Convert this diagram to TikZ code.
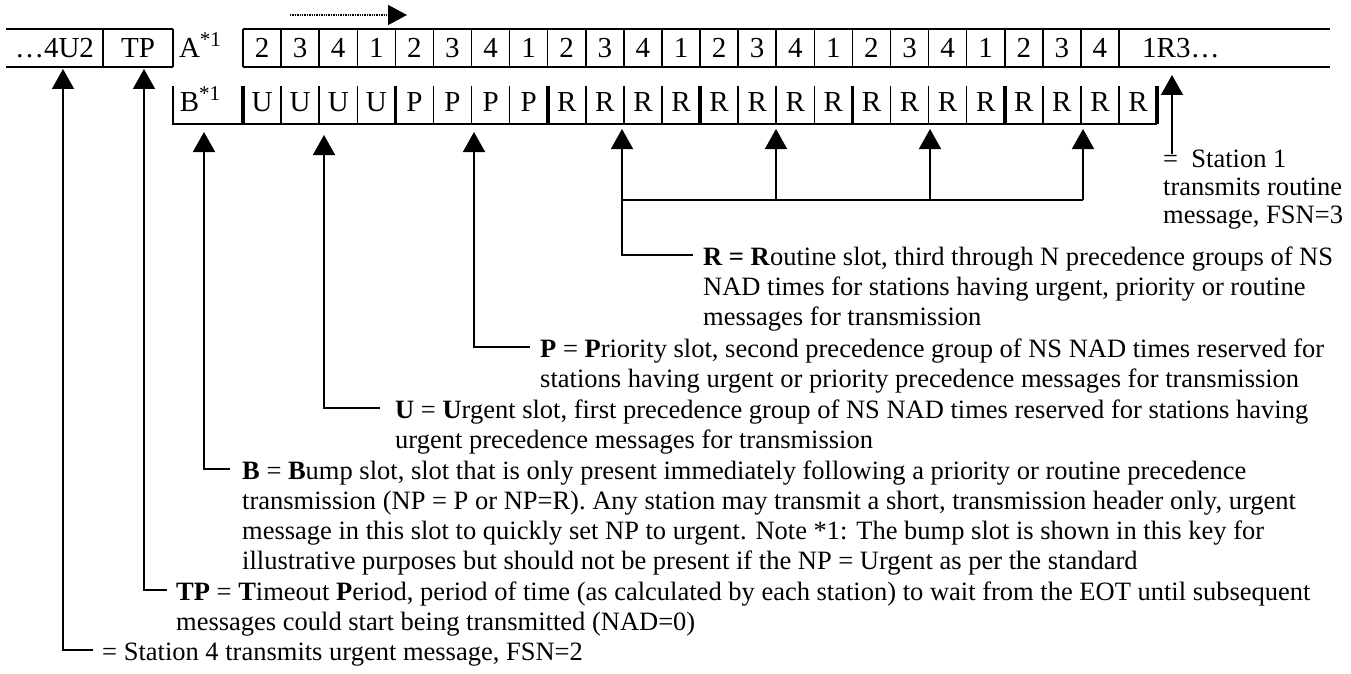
\documentclass[tikz,border=0pt]{standalone}
\usepackage{fontspec}
\setmainfont{Liberation Serif}
\usetikzlibrary{arrows.meta}
\begin{document}
\begin{tikzpicture}[x=1pt,y=-1pt,
  gridline/.style={line width=1.5pt},
  thickdiv/.style={line width=3.6pt},
  cell/.style={font=\fontsize{29}{30}\selectfont, inner sep=0pt, anchor=base},
  body/.style={font=\fontsize{26.5}{30}\selectfont, inner sep=0pt, anchor=base west},
  leader/.style={line width=1.6pt, -{Triangle[length=20pt,width=22pt]}},
  plainline/.style={line width=1.6pt}
]
\useasboundingbox (0,0) rectangle (1351,674);

% ---------- upper row ----------
\draw[gridline] (6,29) -- (173,29) (6,67) -- (173,67) (103,29) -- (103,67) (173,29) -- (173,67);
\draw[gridline] (243,29) -- (1330,29) (243,67) -- (1330,67);
\foreach \k in {0,...,23} \draw[gridline] ({243+38.087*\k},29) -- ({243+38.087*\k},67);

\node[cell] (c4u2) at (54.5,58) {…4U2};
\node[cell] (ctp) at (138,58) {TP};
\node[cell] (ca) at (200,58) {A\raisebox{11pt}{\fontsize{21}{21}\selectfont *1}};
\foreach \k in {0,...,22}{
  \pgfmathtruncatemacro\v{mod(\k,4)==3 ? 1 : mod(\k,4)+2}
  \node[cell] (u\k) at ({243+38.087*(\k+0.5)},58) {\v};
}
\node[cell, anchor=base west] (c1r3) at (1142,58) {1R3…};

% dotted direction arrow
\coordinate (dotS) at (290,15);
\coordinate (dotE) at (407,15);
\draw[line width=1.3pt, dash pattern=on 1.3pt off 1.1pt, -{Triangle[length=19pt,width=20pt]}] (dotS) -- (dotE);

% ---------- lower row ----------
\draw[gridline] (173,86) -- (173,124) -- (1157,124);
\foreach \k in {1,2,3,5,6,7,9,10,11,13,14,15,17,18,19,21,22,23}
  \draw[gridline] ({243+38.087*\k},86) -- ({243+38.087*\k},124);
\foreach \k in {0,4,...,24}
  \draw[thickdiv] ({243+38.087*\k},86) -- ({243+38.087*\k},124);

\node[cell] (cb) at (200,112) {B\raisebox{11pt}{\fontsize{21}{21}\selectfont *1}};
\foreach \k in {0,...,23}{
  \node[cell] (l\k) at ({243+38.087*(\k+0.5)},112) {\ifnum\k<4 U\else\ifnum\k<8 P\else R\fi\fi};
}

% ---------- key texts ----------
\node[body] (rt0) at (703,265) {\textbf{R = R}outine slot, third through N precedence groups of NS};
\node[body] (rt1) at (703,295) {NAD times for stations having urgent, priority or routine};
\node[body] (rt2) at (703,325) {messages for transmission};

\node[body] (pt0) at (540,357) {\textbf{P} = \textbf{P}riority slot, second precedence group of NS NAD times reserved for};
\node[body] (pt1) at (540,387) {stations having urgent or priority precedence messages for transmission};

\node[body] (ut0) at (395,418) {\textbf{U} = \textbf{U}rgent slot, first precedence group of NS NAD times reserved for stations having};
\node[body] (ut1) at (395,448) {urgent precedence messages for transmission};

\node[body] (bt0) at (242,479) {\textbf{B} = \textbf{B}ump slot, slot that is only present immediately following a priority or routine precedence};
\node[body] (bt1) at (242,509) {transmission (NP = P or NP=R). Any station may transmit a short, transmission header only, urgent};
\node[body] (bt2) at (242,539) {message in this slot to quickly set NP to urgent. Note *1: The bump slot is shown in this key for};
\node[body] (bt3) at (242,569) {illustrative purposes but should not be present if the NP = Urgent as per the standard};

\node[body] (tt0) at (176,600) {\textbf{TP} = \textbf{T}imeout \textbf{P}eriod, period of time (as calculated by each station) to wait from the EOT until subsequent};
\node[body] (tt1) at (176,630) {messages could start being transmitted (NAD=0)};

\node[body] (s4t) at (102,660) {= Station 4 transmits urgent message, FSN=2};

\node[body] (s1t0) at (1163,167) {=~~Station 1};
\node[body] (s1t1) at (1163,195) {transmits routine};
\node[body] (s1t2) at (1163,223) {message, FSN=3};

% ---------- connectors ----------
\coordinate (tip4u2) at (63,69);   \coordinate (end4u2) at (93,650);
\coordinate (tiptp) at (144,69);   \coordinate (endtp) at (167,590);
\coordinate (tipb) at (204,132);   \coordinate (endb) at (230,469);
\coordinate (tipu) at (324,135);   \coordinate (endu) at (380,408);
\coordinate (tipp) at (474,132);   \coordinate (endp) at (530,347);
\coordinate (tipr1) at (622,129);  \coordinate (endr) at (693,255);
\coordinate (tipr2) at (776,129);
\coordinate (tipr3) at (930,129);
\coordinate (tipr4) at (1083,129);
\coordinate (jr1) at (622,200);
\coordinate (jr2) at (776,200);
\coordinate (jr3) at (930,200);
\coordinate (jr4) at (1083,200);
\coordinate (tips1) at (1172,75);  \coordinate (ends1) at (1172,154);

\draw[leader] (end4u2) -| (tip4u2);
\draw[leader] (endtp) -| (tiptp);
\draw[leader] (endb) -| (tipb);
\draw[leader] (endu) -| (tipu);
\draw[leader] (endp) -| (tipp);
\draw[leader] (endr) -| (tipr1);
\draw[plainline] (jr1) -- (jr4);
\draw[leader] (jr2) -- (tipr2);
\draw[leader] (jr3) -- (tipr3);
\draw[leader] (jr4) -- (tipr4);
\draw[leader] (ends1) -- (tips1);
\end{tikzpicture}
\end{document}
